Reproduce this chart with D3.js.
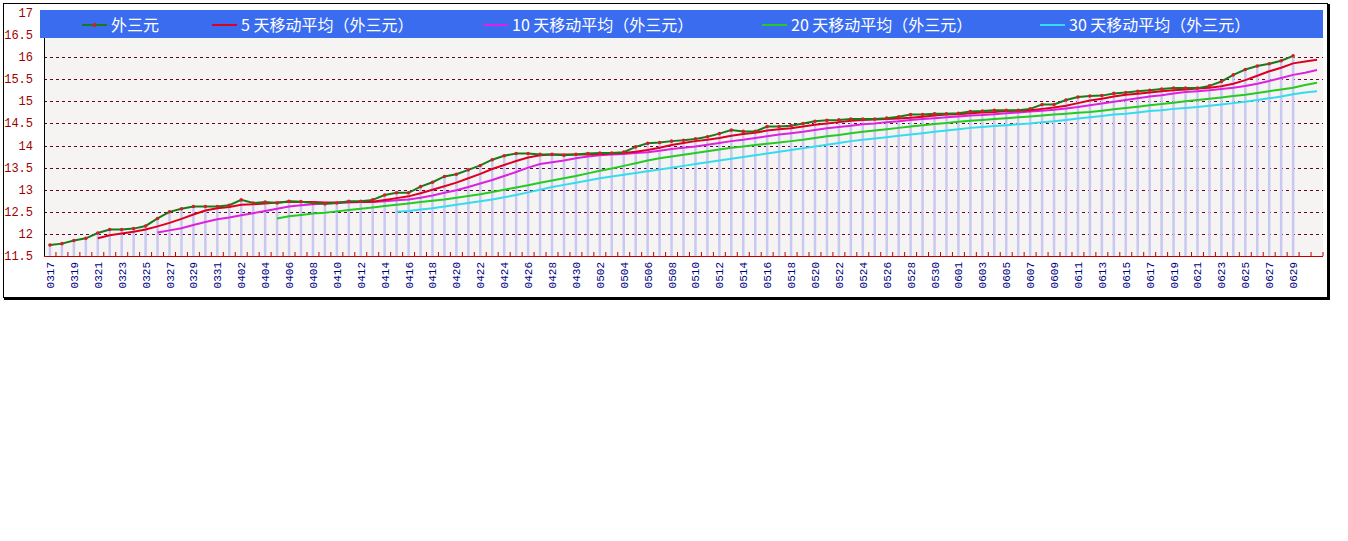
<!DOCTYPE html>
<html><head><meta charset="utf-8">
<script src="https://cdn.jsdelivr.net/npm/d3@7"></script>
<style>body{margin:0;background:#fff}svg{display:block}</style>
</head><body>
<svg id="chart" width="1348" height="541"></svg>
<script>
// 外三元 daily price, 0317 - 0629
const mainVals = [11.75,11.78,11.85,11.9,12.02,12.1,12.1,12.12,12.18,12.35,12.5,12.57,12.62,12.62,12.62,
  12.65,12.77,12.7,12.72,12.7,12.74,12.73,12.7,12.68,12.7,12.74,12.74,12.77,12.88,12.93,12.93,13.07,13.17,13.3,13.35,
  13.45,13.55,13.68,13.77,13.82,13.82,13.8,13.8,13.78,13.8,
  13.82,13.83,13.83,13.85,13.97,14.05,14.07,14.1,14.12,14.15,14.2,14.27,14.35,14.32,14.32,14.43,14.43,14.45,14.5,14.55,
  14.57,14.58,14.6,14.6,14.6,14.62,14.65,14.7,14.7,14.72,14.72,
  14.73,14.77,14.78,14.8,14.8,14.8,14.83,14.93,14.93,15.03,15.1,15.12,15.13,15.18,15.2,15.23,15.25,15.28,15.3,15.3,
  15.3,15.35,15.45,15.6,15.72,15.8,15.85,15.92,16.03];
// moving averages (start at the given day index)
const ma5Start = 4;
const ma5 = [11.9,11.97,12.01,12.05,12.1,12.17,12.25,12.34,12.44,12.53,12.58,
  12.61,12.66,12.67,12.69,12.71,12.73,12.72,12.72,12.71,12.71,12.72,12.72,12.73,12.77,12.81,12.85,12.92,13.0,13.08,13.16,
  13.26,13.36,13.47,13.56,13.65,13.73,13.78,13.8,13.8,13.8,
  13.8,13.81,13.82,13.83,13.86,13.9,13.95,14.01,14.06,14.1,14.13,14.17,14.22,14.26,14.29,14.34,14.37,14.39,14.43,14.47,
  14.5,14.53,14.56,14.58,14.59,14.6,14.61,14.63,14.65,14.68,14.7,
  14.71,14.73,14.75,14.76,14.78,14.79,14.8,14.83,14.86,14.9,14.96,15.02,15.06,15.11,15.15,15.17,15.2,15.23,15.25,15.27,
  15.29,15.31,15.34,15.4,15.48,15.58,15.68,15.76,15.86,15.9,15.94];
const ma10Start = 9;
const ma10 = [12.03,12.08,12.13,12.2,12.27,12.33,
  12.37,12.42,12.47,12.52,12.57,12.62,12.65,12.67,12.69,12.7,12.71,12.72,12.72,12.74,12.76,12.78,12.82,12.87,12.93,12.99,
  13.06,13.14,13.22,13.31,13.4,13.5,13.58,13.62,13.66,13.71,
  13.75,13.78,13.8,13.81,13.83,13.85,13.88,13.92,13.95,13.98,14.02,14.06,14.1,14.13,14.17,14.21,14.25,14.28,14.31,14.35,
  14.39,14.42,14.45,14.48,14.5,14.53,14.55,14.58,14.6,14.62,14.64,
  14.66,14.68,14.69,14.71,14.73,14.75,14.77,14.79,14.81,14.84,14.87,14.91,14.95,14.99,15.03,15.07,15.11,15.14,15.18,15.21,
  15.23,15.25,15.28,15.31,15.35,15.4,15.46,15.53,15.6,15.65,15.71];
const ma20Start = 19;
const ma20 = [12.35,12.4,12.43,12.46,12.48,12.51,12.54,12.57,12.6,12.63,12.66,12.69,12.72,12.75,12.78,12.82,
  12.86,12.9,12.95,13.0,13.05,13.1,13.16,13.21,13.26,13.31,
  13.37,13.43,13.48,13.54,13.6,13.66,13.71,13.75,13.79,13.83,13.87,13.91,13.95,13.98,14.01,14.04,14.07,14.1,14.13,14.17,
  14.21,14.24,14.28,14.31,14.34,14.37,14.4,14.43,14.46,14.49,14.51,
  14.54,14.56,14.58,14.6,14.62,14.64,14.66,14.68,14.7,14.72,14.74,14.76,14.79,14.82,14.85,14.88,14.91,14.94,14.97,15.0,
  15.03,15.06,15.09,15.12,15.15,15.19,15.23,15.27,15.31,15.37,15.42,15.42];
const ma30Start = 29;
const ma30 = [12.5,12.52,12.55,12.58,12.62,12.66,
  12.7,12.74,12.78,12.83,12.88,12.94,13.0,13.06,13.11,13.16,
  13.21,13.26,13.3,13.34,13.38,13.42,13.46,13.5,13.54,13.58,13.62,13.66,13.7,13.74,13.78,13.82,13.86,13.9,13.94,13.98,
  14.02,14.06,14.1,14.13,14.16,14.19,14.22,14.25,14.28,14.31,14.34,
  14.37,14.4,14.42,14.44,14.46,14.48,14.5,14.53,14.55,14.58,14.61,14.64,14.67,14.7,14.72,14.75,14.78,14.8,14.83,14.85,
  14.87,14.9,14.93,14.96,14.99,15.03,15.07,15.11,15.16,15.2,15.23,15.23];

// days 0317 .. 0701
const monthDays = [[3,17,31],[4,1,30],[5,1,31],[6,1,30],[7,1,1]];
const days = [];
monthDays.forEach(([m, a, b]) => {
  for (let d = a; d <= b; d++) days.push("0" + m + String(d).padStart(2, "0"));
});
const yTicks = [11.5,12,12.5,13,13.5,14,14.5,15,15.5,16,16.5,17];

const svg = d3.select("#chart");
const L = 44, R = 1323, T = 13, B = 256;

svg.append("rect").attr("x", 3.5).attr("y", 3.5).attr("width", 1324).attr("height", 294)
  .attr("fill", "#fff").attr("stroke", "#000");
svg.append("line").attr("x1", 1329).attr("x2", 1329).attr("y1", 4).attr("y2", 299).attr("stroke", "#000").attr("stroke-width", 2);
svg.append("line").attr("x1", 4).attr("x2", 1330).attr("y1", 299).attr("y2", 299).attr("stroke", "#000").attr("stroke-width", 2);
svg.append("rect").attr("x", L).attr("y", T).attr("width", R - L).attr("height", B - T).attr("fill", "#f6f3f3");

const x = d3.scaleBand().domain(days).range([L, R]);
const cx = i => x(days[i]) + x.bandwidth() / 2;
const y = d3.scaleLinear().domain([11.5, 17]).range([B, T]);

// grid
svg.append("g").selectAll("line").data(yTicks.filter(v => v > 11.5 && v < 17)).join("line")
  .attr("x1", L).attr("x2", R).attr("y1", d => Math.round(y(d)) + 0.5).attr("y2", d => Math.round(y(d)) + 0.5)
  .attr("stroke", "#660033").attr("stroke-dasharray", "3,3");

// vertical bars
svg.append("g").selectAll("line").data(mainVals).join("line")
  .attr("x1", (d, i) => cx(i)).attr("x2", (d, i) => cx(i))
  .attr("y1", B).attr("y2", d => y(d))
  .attr("stroke", "#c8c8f0").attr("stroke-width", 2.5);

// x axis
svg.append("line").attr("x1", L).attr("x2", R).attr("y1", B + 0.5).attr("y2", B + 0.5).attr("stroke", "#c00000");
svg.append("g").selectAll("line").data(days).join("line")
  .attr("x1", d => x(d) + x.bandwidth()).attr("x2", d => x(d) + x.bandwidth())
  .attr("y1", B).attr("y2", B - 4).attr("stroke", "#c00000");
svg.append("line").attr("x1", L + 0.5).attr("x2", L + 0.5).attr("y1", T + 25).attr("y2", B).attr("stroke", "#000");

// y labels
svg.append("g").selectAll("text").data(yTicks).join("text")
  .attr("x", 33).attr("y", d => y(d) + 4).attr("text-anchor", "end")
  .attr("font-family", "Liberation Mono, DejaVu Sans Mono, monospace").attr("font-size", 12)
  .attr("fill", "#a00000").text(d => d);

// x labels
svg.append("g").selectAll("text").data(days.filter((d, i) => i % 2 === 0 && i < 105)).join("text")
  .attr("transform", d => `translate(${x(d) + x.bandwidth() / 2 + 4},262) rotate(-90)`)
  .attr("text-anchor", "end")
  .attr("font-family", "Liberation Mono, DejaVu Sans Mono, monospace").attr("font-size", 11)
  .attr("fill", "#000080").text(d => d);

const line = d3.line().x(d => cx(d[0])).y(d => y(d[1]));
const series = [
  {vals: ma30, start: ma30Start, color: "#33ddee", name: "30 天移动平均（外三元）"},
  {vals: ma20, start: ma20Start, color: "#22cc22", name: "20 天移动平均（外三元）"},
  {vals: ma10, start: ma10Start, color: "#dd22dd", name: "10 天移动平均（外三元）"},
  {vals: ma5, start: ma5Start, color: "#dd0022", name: "5 天移动平均（外三元）"}
];
series.forEach(s => {
  svg.append("path").datum(s.vals.map((v, i) => [i + s.start, v]))
    .attr("d", line).attr("fill", "none").attr("stroke", s.color).attr("stroke-width", 2);
});
svg.append("path").datum(mainVals.map((v, i) => [i, v]))
  .attr("d", line).attr("fill", "none").attr("stroke", "#1a7a1a").attr("stroke-width", 2);
svg.append("g").selectAll("circle").data(mainVals).join("circle")
  .attr("cx", (d, i) => cx(i)).attr("cy", d => y(d)).attr("r", 1.8).attr("fill", "#cc2222");

// legend
svg.append("rect").attr("x", 40).attr("y", 10).attr("width", R - 40).attr("height", 28).attr("fill", "#3a6cf0");
const legend = [
  {name: "外三元", color: "#1a7a1a", x: 82, marker: true},
  {name: "5 天移动平均（外三元）", color: "#dd0022", x: 212},
  {name: "10 天移动平均（外三元）", color: "#dd22dd", x: 483},
  {name: "20 天移动平均（外三元）", color: "#22cc22", x: 762},
  {name: "30 天移动平均（外三元）", color: "#33ddee", x: 1040}
];
const lg = svg.append("g").selectAll("g").data(legend).join("g");
lg.append("line").attr("x1", d => d.x).attr("x2", d => d.x + 25).attr("y1", 25).attr("y2", 25)
  .attr("stroke", d => d.color).attr("stroke-width", 2);
lg.filter(d => d.marker).append("circle").attr("cx", d => d.x + 12.5).attr("cy", 25).attr("r", 2).attr("fill", "#cc2222");
lg.append("text").attr("x", d => d.x + 29).attr("y", 31)
  .attr("font-family", "Noto Sans CJK SC, sans-serif").attr("font-size", 16)
  .attr("fill", "#fff").text(d => d.name);
</script>
</body></html>
